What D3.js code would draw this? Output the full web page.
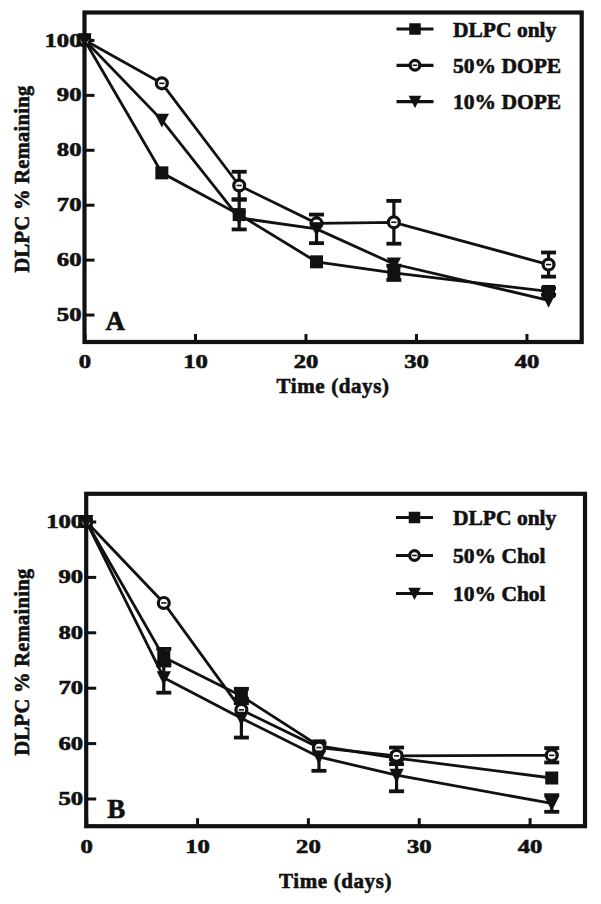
<!DOCTYPE html>
<html><head><meta charset="utf-8">
<script src="https://cdn.jsdelivr.net/npm/d3@7"></script>
<style>
body{margin:0;background:#fff}
svg{display:block}
text{font-family:"Liberation Serif","Times New Roman",serif;font-weight:bold;fill:#111;stroke:#111;stroke-width:0.6px}
</style>
</head><body><svg id="c" width="601" height="904"></svg>
<script>
// ---- data ----
const days = [0, 7, 14, 21, 28, 42];
const xTickValues = [0, 10, 20, 30, 40];
const yTickValues = [50, 60, 70, 80, 90, 100];

const seriesNamesA = ["DLPC only", "50% DOPE", "10% DOPE"];
const dlpcA    = [100, 75.8, 68.2, 59.6, 57.6, 54.2];
const dlpcErrA = [0, 0, 2.7, 0, 1.3, 0.6];
const dope50    = [100, 92.1, 73.5, 66.6, 66.8, 59.1];
const dope50Err = [0, 0, 2.5, 0, 3.9, 2.2];
const dope10    = [100, 85.4, 67.6, 65.6, 59.2, 52.6];
const dope10Err = [0, 0, 0, 2.6, 0, 0];

const seriesNamesB = ["DLPC only", "50% Chol", "10% Chol"];
const dlpcB    = [100, 75.5, 68.5, 59.5, 57.3, 53.7];
const dlpcErrB = [0, 1.5, 1.3, 0, 0, 0];
const chol50    = [100, 85.3, 66.0, 59.2, 57.7, 57.8];
const chol50Err = [0, 0, 0, 0, 1.5, 1.3];
const chol10    = [100, 71.8, 64.5, 57.5, 54.2, 49.1];
const chol10Err = [0, 2.7, 3.5, 2.5, 2.9, 1.5];

const markerTypes = ["square", "circle", "triangle"];
const yTitle = "DLPC % Remaining";
const xTitle = "Time (days)";

// ---- drawing ----
const svg = d3.select("#c");
const ink = "#111";

function drawMarker(g, type, cx, cy, s) {
  if (type === "square") {
    g.append("rect").attr("x", cx - s/2).attr("y", cy - s/2).attr("width", s).attr("height", s).attr("fill", ink);
  } else if (type === "circle") {
    g.append("circle").attr("cx", cx).attr("cy", cy).attr("r", s*0.42).attr("fill", "#fff").attr("stroke", ink).attr("stroke-width", 3.2);
    g.append("line").attr("x1", cx - s*0.2).attr("x2", cx + s*0.2).attr("y1", cy).attr("y2", cy).attr("stroke", ink).attr("stroke-width", 1.6);
  } else {
    const w = s*0.55, h = s*0.5;
    g.append("path").attr("d", `M${cx-w},${cy-h}L${cx+w},${cy-h}L${cx},${cy+h*1.15}Z`).attr("fill", ink);
  }
}

function panel(cfg) {
  const g = svg.append("g");
  const x = d3.scaleLinear().domain([0, 45]).range([cfg.l, cfg.r]);
  const y = d3.scaleLinear().domain([45, 105]).range([cfg.b, cfg.t]);

  // x axis
  const xa = g.append("g").attr("transform", `translate(0,${cfg.b})`)
    .call(d3.axisBottom(x).tickValues(xTickValues).tickSize(-8).tickPadding(13).tickFormat(d3.format("d")));
  xa.select(".domain").remove();
  xa.selectAll(".tick line").attr("stroke", ink).attr("stroke-width", 3);
  xa.selectAll(".tick text").attr("fill", ink).style("font-size", "19px")
    .attr("transform", "scale(1.3,1)");

  // y axis
  const ya = g.append("g").attr("transform", `translate(${cfg.l},0)`)
    .call(d3.axisLeft(y).tickValues(yTickValues).tickSize(-10).tickPadding(3).tickFormat(d3.format("d")));
  ya.select(".domain").remove();
  ya.selectAll(".tick line").attr("stroke", ink).attr("stroke-width", 3);
  ya.selectAll(".tick text").attr("fill", ink).style("font-size", "19px")
    .attr("x", -3/1.3).attr("transform", "scale(1.3,1)");

  // frame
  g.append("rect").attr("x", cfg.l).attr("y", cfg.t).attr("width", cfg.r - cfg.l).attr("height", cfg.b - cfg.t)
    .attr("fill", "none").attr("stroke", ink).attr("stroke-width", 4.2);

  const series = cfg.series.map((s, i) => ({
    name: s.name, type: markerTypes[i],
    pts: days.map((d, j) => ({day: d, v: s.values[j], e: s.errs[j]}))
  }));

  const line = d3.line().x(d => x(d.day)).y(d => y(d.v));
  series.forEach(s => {
    g.append("path").attr("d", line(s.pts)).attr("fill", "none").attr("stroke", ink).attr("stroke-width", 2.8);
  });
  series.forEach(s => {
    s.pts.filter(p => p.e > 0).forEach(p => {
      const cx = x(p.day), y1 = y(p.v - p.e), y2 = y(p.v + p.e);
      g.append("line").attr("x1", cx).attr("x2", cx).attr("y1", y1).attr("y2", y2).attr("stroke", ink).attr("stroke-width", 3.2);
      [y1, y2].forEach(yy => g.append("line").attr("x1", cx - 7.5).attr("x2", cx + 7.5).attr("y1", yy).attr("y2", yy)
        .attr("stroke", ink).attr("stroke-width", 3.8));
    });
  });
  series.forEach(s => {
    s.pts.forEach(p => drawMarker(g, s.type, x(p.day), y(p.v), 13));
  });

  // legend
  series.forEach((s, i) => {
    const ly = cfg.legY + i * cfg.legDy;
    g.append("line").attr("x1", cfg.legX1).attr("x2", cfg.legX2).attr("y1", ly).attr("y2", ly)
      .attr("stroke", ink).attr("stroke-width", 3.2);
    drawMarker(g, s.type, (cfg.legX1 + cfg.legX2) / 2, ly, 11.5);
    g.append("text").attr("x", cfg.legTx).attr("y", ly).attr("dy", "0.35em").style("font-size", "21.5px").text(s.name);
  });

  // panel letter
  g.append("text").attr("x", cfg.l + 21).attr("y", cfg.b - cfg.letterOff).style("font-size", "27px").text(cfg.letter);

  // axis titles
  g.append("text").attr("transform", `translate(29,${cfg.ytc}) rotate(-90)`).attr("text-anchor", "middle")
    .style("font-size", "20.5px").style("letter-spacing", "0.3px").text(yTitle);
  g.append("text").attr("x", (cfg.l + cfg.r) / 2).attr("y", cfg.xtBase).attr("text-anchor", "middle")
    .style("font-size", "21px").style("letter-spacing", "0.6px").text(xTitle);
}

panel({
  l: 84.5, r: 581.7, t: 12.5, b: 342,
  series: [
    {name: seriesNamesA[0], values: dlpcA, errs: dlpcErrA},
    {name: seriesNamesA[1], values: dope50, errs: dope50Err},
    {name: seriesNamesA[2], values: dope10, errs: dope10Err}
  ],
  legY: 29, legDy: 36.3, legX1: 396.5, legX2: 433.5, legTx: 453,
  letter: "A", letterOff: 12, ytc: 179, xtBase: 393
});

panel({
  l: 86.2, r: 585, t: 493.8, b: 826.2,
  series: [
    {name: seriesNamesB[0], values: dlpcB, errs: dlpcErrB},
    {name: seriesNamesB[1], values: chol50, errs: chol50Err},
    {name: seriesNamesB[2], values: chol10, errs: chol10Err}
  ],
  legY: 517.5, legDy: 38, legX1: 396, legX2: 433, legTx: 453,
  letter: "B", letterOff: 8, ytc: 662, xtBase: 888
});
</script>
</body></html>
